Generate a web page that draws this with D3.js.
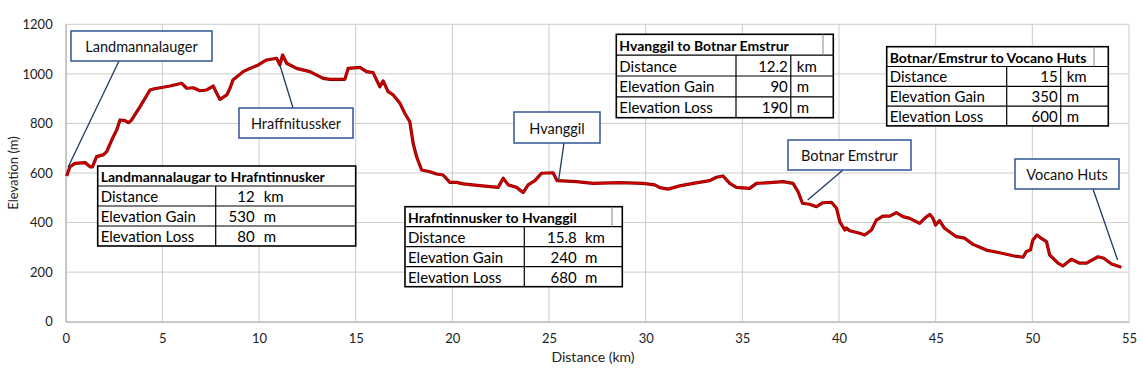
<!DOCTYPE html>
<html>
<head>
<meta charset="utf-8">
<script src="https://cdn.jsdelivr.net/npm/d3@7"></script>
<style>
  body { margin: 0; background: #fff; }
  svg { font-family: Lato, "Open Sans", sans-serif; }
  .grid line { stroke: #cccccc; stroke-width: 1; }
  .callout-text { font-size: 14.5px; fill: #111; }
  .tbl text { font-size: 15px; fill: #000; }
  .tbl text.hdr { font-size: 14px; font-weight: bold; }
</style>
</head>
<body>
<svg id="profile"></svg>
<script>
// Trail profile (km, m)
const distance = [
  0.05, 0.22, 0.48, 1.0, 1.26, 1.38, 1.6, 1.94, 2.12, 2.38, 2.64, 2.81, 3.07, 3.24, 3.41,
  3.84, 4.36, 4.53, 5.39, 6.0, 6.26, 6.6, 6.94, 7.29, 7.63, 7.81, 7.98, 8.33, 8.5, 8.65,
  9.18, 9.53, 9.96, 10.39, 10.91, 11.08, 11.22, 11.43, 11.94, 12.63, 13.32, 13.67, 14.44,
  14.61, 15.22, 15.56, 15.9, 16.25, 16.42, 16.68, 16.94, 17.29, 17.54, 17.8, 17.97, 18.15,
  18.41, 18.84, 19.18, 19.52, 19.87, 20.22, 20.56, 21.42, 22.37, 22.63, 22.89, 23.32, 23.66,
  23.92, 24.27, 24.61, 25.21, 25.42, 26.42, 27.28, 28.66, 29.87, 30.47, 30.73, 31.16, 31.76,
  32.45, 33.31, 33.66, 34.0, 34.35, 34.69, 35.38, 35.73, 36.42, 37.1, 37.62, 37.88, 38.11,
  38.48, 38.83, 39.17, 39.61, 39.87, 40.04, 40.2, 40.3, 40.38, 40.55, 41.07, 41.33, 41.68,
  41.93, 42.27, 42.62, 42.97, 43.31, 43.66, 44.17, 44.43, 44.69, 44.86, 45.0, 45.2, 45.46,
  46.07, 46.5, 46.93, 47.62, 48.31, 49.0, 49.52, 49.69, 49.9, 50.03, 50.24, 50.47, 50.73,
  50.9, 51.07, 51.33, 51.58, 52.02, 52.45, 52.8, 53.4, 53.7, 54.1, 54.6
];
const elevation = [
  588, 625, 639, 642, 625, 625, 666, 673, 686, 733, 774, 814, 811, 803, 814,
  867, 935, 939, 951, 962, 942, 944, 932, 935, 951, 922, 897, 915, 942, 975,
  1009, 1022, 1036, 1056, 1063, 1036, 1076, 1043, 1022, 1009, 982, 978, 978,
  1022, 1026, 1009, 1005, 948, 972, 928, 915, 881, 841, 807, 720, 666,
  612, 605, 596, 592, 562, 562, 556, 549, 542, 579, 552, 542, 521,
  552, 569, 599, 601, 569, 565, 558, 561, 558, 552, 541, 535, 548,
  558, 569, 583, 588, 558, 542, 538, 558, 561, 565, 558, 525, 478,
  474, 464, 480, 482, 458, 404, 383, 370, 378, 367, 357, 350, 370,
  410, 426, 426, 440, 424, 417, 397, 417, 433, 417, 390, 408, 377,
  343, 337, 312, 289, 278, 266, 260, 283, 289, 330, 350, 336, 323,
  269, 256, 236, 225, 252, 236, 236, 262, 256, 233, 220
];
const data = distance.map((d, i) => ({ km: d, m: elevation[i] }));

const xTicks = [0, 5, 10, 15, 20, 25, 30, 35, 40, 45, 50, 55];
const yTicks = [0, 200, 400, 600, 800, 1000, 1200];
const xTitle = "Distance (km)";
const yTitle = "Elevation (m)";

// Callouts: label, anchor on the trail
const calloutNames = ["Landmannalauger", "Hraffnitussker", "Hvanggil", "Botnar Emstrur", "Vocano Huts"];
const calloutKm = [0.12, 11.08, 25.5, 38.38, 54.41];
const calloutElev = [623, 1036, 572, 491, 249];

// Section tables
const tableTitles = [
  "Landmannalaugar to Hrafntinnusker",
  "Hrafntinnusker to Hvanggil",
  "Hvanggil to Botnar Emstrur",
  "Botnar/Emstrur to Vocano Huts"
];
const rowLabels = ["Distance", "Elevation Gain", "Elevation Loss"];
const rowUnits = ["km", "m", "m"];
const sectionDistance = ["12", "15.8", "12.2", "15"];
const sectionGain = ["530", "240", "90", "350"];
const sectionLoss = ["80", "680", "190", "600"];

const width = 1143;
const height = 369;
const margin = { top: 24.3, bottom: 47.3, left: 65.7, right: 14 };
const innerWidth = width - margin.left - margin.right;
const innerHeight = height - margin.top - margin.bottom;

const svg = d3.select("#profile").attr("width", width).attr("height", height);
svg.append("rect").attr("width", width).attr("height", height).attr("fill", "#fff");

const xScale = d3.scaleLinear().domain([0, 55]).range([0, innerWidth]);
const yScale = d3.scaleLinear().domain([0, 1200]).range([innerHeight, 0]);

const g = svg.append("g").attr("transform", `translate(${margin.left},${margin.top})`);

// Gridlines
const grid = g.append("g").attr("class", "grid");
grid.selectAll(".hg").data(yTicks).join("line")
  .attr("x1", 0).attr("x2", innerWidth)
  .attr("y1", (d) => yScale(d)).attr("y2", (d) => yScale(d));
grid.selectAll(".vg").data(xTicks).join("line")
  .attr("y1", 0).attr("y2", innerHeight)
  .attr("x1", (d) => xScale(d)).attr("x2", (d) => xScale(d));

// Axes
const yAxisG = g.append("g")
  .call(d3.axisLeft(yScale).tickValues(yTicks).tickFormat(d3.format("d")).tickSize(0).tickPadding(13))
  .attr("font-family", "Lato, sans-serif").attr("font-size", 13);
yAxisG.select(".domain").attr("stroke", "#b0b0b0");
yAxisG.selectAll(".tick text").attr("fill", "#222");
const xAxisG = g.append("g")
  .attr("transform", `translate(0,${innerHeight})`)
  .call(d3.axisBottom(xScale).tickValues(xTicks).tickSize(0).tickPadding(12))
  .attr("font-family", "Lato, sans-serif").attr("font-size", 13);
xAxisG.select(".domain").attr("stroke", "#b0b0b0");
xAxisG.selectAll(".tick text").attr("fill", "#222");

svg.append("text")
  .attr("transform", `translate(18,${margin.top + innerHeight / 2}) rotate(-90)`)
  .attr("text-anchor", "middle")
  .attr("font-size", "13px").attr("fill", "#222")
  .text(yTitle);
svg.append("text")
  .attr("x", 593).attr("y", 362)
  .attr("text-anchor", "middle")
  .attr("font-size", "14px").attr("fill", "#222")
  .text(xTitle);

// Profile line
const lineGen = d3.line().x((d) => xScale(d.km)).y((d) => yScale(d.m));
g.append("path").attr("d", lineGen(data))
  .attr("fill", "none").attr("stroke", "#8a0000").attr("stroke-width", 3.2)
  .attr("stroke-linejoin", "round");
g.append("path").attr("d", lineGen(data))
  .attr("fill", "none").attr("stroke", "#d40000").attr("stroke-width", 1.6)
  .attr("stroke-linejoin", "round");

// Callout boxes (page coords)
const boxes = [
  { x: 71, y: 31, w: 141, h: 30, lx: 119 },
  { x: 239, y: 108, w: 114, h: 30, lx: 293 },
  { x: 514, y: 112, w: 86, h: 31, lx: 564 },
  { x: 788, y: 140, w: 123, h: 30, lx: 843 },
  { x: 1015, y: 159, w: 104, h: 30, lx: 1093 }
];
calloutNames.forEach((name, i) => {
  const b = boxes[i];
  const ax = margin.left + xScale(calloutKm[i]);
  const ay = margin.top + yScale(calloutElev[i]);
  const ly = b.y < ay ? b.y + b.h : b.y;
  svg.append("line")
    .attr("x1", b.lx).attr("y1", ly).attr("x2", ax).attr("y2", ay)
    .attr("stroke", "#1f3864").attr("stroke-width", 1.3);
  svg.append("rect")
    .attr("x", b.x).attr("y", b.y).attr("width", b.w).attr("height", b.h)
    .attr("fill", "#fff").attr("stroke", "#2f5597").attr("stroke-width", 1.5);
  svg.append("text").attr("class", "callout-text")
    .attr("x", b.x + b.w / 2).attr("y", b.y + b.h / 2 + 6)
    .attr("text-anchor", "middle")
    .text(name);
});

// Tables (page coords)
const tLayout = [
  { x: 97.7, y: 166, w: 258, rh: 20, c1: 118, valR: 157, unit: 166, unitLine: false, hdrLine: null },
  { x: 405, y: 206.7, w: 217.3, rh: 20, c1: 119.3, valR: 171.7, unit: 180, unitLine: false, hdrLine: 207 },
  { x: 616.3, y: 34.3, w: 217, rh: 20.85, c1: 119.7, valR: 171.5, unit: 180.5, unitLine: true, hdrLine: 206.7 },
  { x: 886.7, y: 46.7, w: 221.6, rh: 19.8, c1: 120, valR: 171, unit: 180, unitLine: true, hdrLine: 207.3 }
];
tableTitles.forEach((title, i) => {
  const t = tLayout[i];
  const vals = [sectionDistance[i], sectionGain[i], sectionLoss[i]];
  const tg = svg.append("g").attr("class", "tbl").attr("transform", `translate(${t.x},${t.y})`);
  const h = t.rh * 4;
  tg.append("rect").attr("width", t.w).attr("height", h)
    .attr("fill", "#fff").attr("stroke", "#000").attr("stroke-width", 1.6);
  for (let r = 1; r < 4; r++) {
    tg.append("line").attr("x1", 0).attr("x2", t.w).attr("y1", r * t.rh).attr("y2", r * t.rh)
      .attr("stroke", "#000").attr("stroke-width", 1.2);
  }
  tg.append("line").attr("x1", t.c1).attr("x2", t.c1).attr("y1", t.rh).attr("y2", h)
    .attr("stroke", "#000").attr("stroke-width", 1.2);
  if (t.unitLine) {
    tg.append("line").attr("x1", t.valR + 3).attr("x2", t.valR + 3).attr("y1", t.rh).attr("y2", h)
      .attr("stroke", "#000").attr("stroke-width", 1.2);
  }
  if (t.hdrLine) {
    tg.append("line").attr("x1", t.hdrLine).attr("x2", t.hdrLine).attr("y1", 0).attr("y2", t.rh)
      .attr("stroke", "#888").attr("stroke-width", 1);
  }
  tg.append("text").attr("class", "hdr").attr("x", 3).attr("y", t.rh / 2 + 6).text(title);
  rowLabels.forEach((lab, r) => {
    const by = (r + 1) * t.rh + t.rh / 2 + 6;
    tg.append("text").attr("x", 3).attr("y", by).text(lab);
    tg.append("text").attr("x", t.valR).attr("y", by).attr("text-anchor", "end").text(vals[r]);
    tg.append("text").attr("x", t.unit).attr("y", by).text(rowUnits[r]);
  });
});
</script>
</body>
</html>
